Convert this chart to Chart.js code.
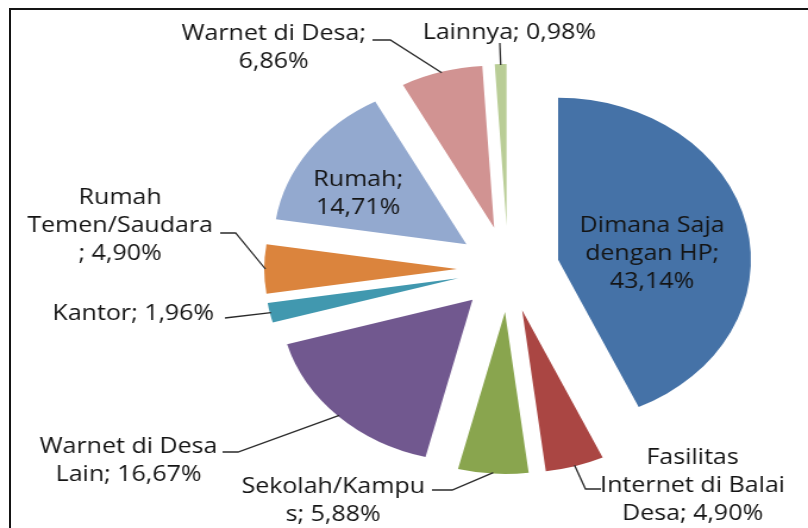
<!DOCTYPE html>
<html>
<head>
<meta charset="utf-8">
<script src="https://cdn.jsdelivr.net/npm/chart.js@4.4.1/dist/chart.umd.min.js"></script>
<style>
    html, body { margin: 0; padding: 0; background: #fff; overflow: hidden; }
    #wrap { position: absolute; left: 0; top: 0; width: 679px; height: 528px; transform: scaleX(1.19); transform-origin: 0 0; }
    #bingkai { position: absolute; left: 9px; top: 8px; width: 799px; height: 520px; border-top: 2px solid #151515; border-left: 2px solid #151515; }
</style>
</head>
<body>
<div id="wrap"><canvas id="lokasiChart" width="679" height="528"></canvas></div>
<div id="bingkai"></div>
<script>
// data
const kategori = ['Dimana Saja dengan HP', 'Fasilitas Internet di Balai Desa', 'Sekolah/Kampus',
    'Warnet di Desa Lain', 'Kantor', 'Rumah Temen/Saudara', 'Rumah', 'Warnet di Desa', 'Lainnya'];
const nilai = [43.14, 4.90, 5.88, 16.67, 1.96, 4.90, 14.71, 6.86, 0.98];
const warna = ['#4572a7', '#aa4643', '#89a54e', '#71588f', '#4198af', '#db843d', '#93a9cf', '#d19392', '#b9cd96'];

// posisi label (px canvas sebelum diregangkan)
const potongBaris = [[11, 22], [9, 27], [13], [14], [], [5, 19], [6], [15], []];
const labelX = [548, 582, 280, 108, 112, 101, 301, 230, 428];
const labelY = [226, 458, 487, 447, 314, 198, 180, 34, 33];
const garisLabel = [
    null,
    [[505, 489], [492, 489]],
    [[363, 490], [380, 490]],
    [[187, 452], [200, 452]],
    [[189, 318]],
    [[185, 233], [198, 233]],
    null,
    [[313, 40], [328, 40]],
    [[420, 43]]
];
const JARAK_PECAH = 43;
const TINGGI_BARIS = 28;

function teksLabel(i) {
    const penuh = kategori[i] + '; ' + nilai[i].toFixed(2).replace('.', ',') + '%';
    const baris = [];
    let awal = 0;
    potongBaris[i].forEach(function(p) {
        baris.push(penuh.slice(awal, p).trim());
        awal = p;
    });
    baris.push(penuh.slice(awal).trim());
    return baris;
}

const explodePlugin = {
    id: 'explode',
    afterDatasetUpdate: function(chart, args) {
        const area = chart.chartArea;
        const cx = (area.left + area.right) / 2;
        const cy = (area.top + area.bottom) / 2;
        args.meta.data.forEach(function(arc) {
            const mid = (arc.startAngle + arc.endAngle) / 2;
            arc.x = cx + JARAK_PECAH * Math.cos(mid);
            arc.y = cy + JARAK_PECAH * Math.sin(mid);
        });
    }
};

const labelPlugin = {
    id: 'labelPie',
    afterDatasetsDraw: function(chart) {
        const c = chart.ctx;
        const arcs = chart.getDatasetMeta(0).data;
        c.save();
        c.font = '21px "Open Sans"';
        c.fillStyle = '#141414';
        c.strokeStyle = '#2a2a2a';
        c.lineWidth = 1.3;
        c.textAlign = 'center';
        c.textBaseline = 'middle';
        arcs.forEach(function(arc, i) {
            const mid = (arc.startAngle + arc.endAngle) / 2;
            const px = arc.x + (arc.outerRadius - 1) * Math.cos(mid);
            const py = arc.y + (arc.outerRadius - 1) * Math.sin(mid);
            if (garisLabel[i]) {
                c.beginPath();
                c.moveTo(garisLabel[i][0][0], garisLabel[i][0][1]);
                for (let k = 1; k < garisLabel[i].length; k++) {
                    c.lineTo(garisLabel[i][k][0], garisLabel[i][k][1]);
                }
                c.lineTo(px, py);
                c.stroke();
            }
            teksLabel(i).forEach(function(t, k) {
                c.fillText(t, labelX[i], labelY[i] + k * TINGGI_BARIS);
            });
        });
        c.restore();
    }
};

const canvas = document.getElementById('lokasiChart');
const ctx = canvas.getContext('2d');
const lokasiChart = new Chart(ctx, {
    type: 'pie',
    data: {
        labels: kategori,
        datasets: [{
            data: nilai,
            backgroundColor: warna,
            borderWidth: 0,
            radius: 162
        }]
    },
    options: {
        responsive: false,
        animation: false,
        events: [],
        layout: {
            padding: { left: 175, right: 0, top: 10, bottom: 0 }
        },
        plugins: {
            legend: { display: false },
            tooltip: { enabled: false }
        }
    },
    plugins: [explodePlugin, labelPlugin]
});
</script>
</body>
</html>
